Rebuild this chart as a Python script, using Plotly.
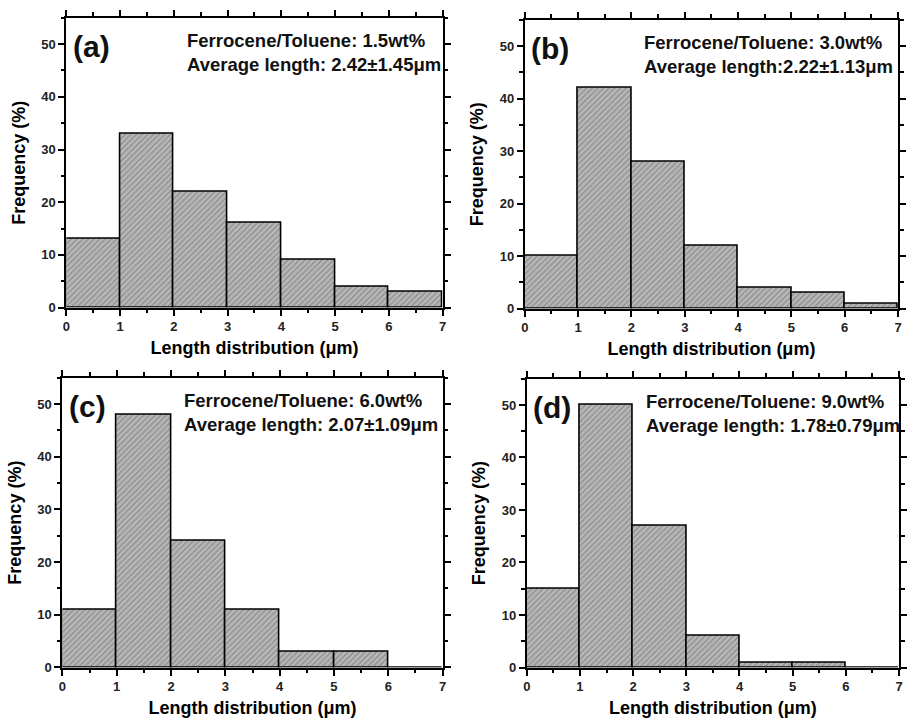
import plotly.graph_objects as go

bin_left = [0, 1, 2, 3, 4, 5, 6]
freq_a = [13, 33, 22, 16, 9, 4, 3]
freq_b = [10, 42, 28, 12, 4, 3, 1]
freq_c = [11, 48, 24, 11, 3, 3, 0]
freq_d = [15, 50, 27, 6, 1, 1, 0]
panel_labels = ["(a)", "(b)", "(c)", "(d)"]
conc_text = ["Ferrocene/Toluene: 1.5wt%", "Ferrocene/Toluene: 3.0wt%",
             "Ferrocene/Toluene: 6.0wt%", "Ferrocene/Toluene: 9.0wt%"]
avg_text = ["Average length: 2.42\u00b11.45\u03bcm", "Average length:2.22\u00b11.13\u03bcm",
            "Average length: 2.07\u00b11.09\u03bcm", "Average length: 1.78\u00b10.79\u03bcm"]
x_title = "Length distribution (\u03bcm)"
y_title = "Frequency (%)"

W, H = 907, 720
# panel boxes in pixels: left, right, top, bottom
boxes = [(63, 443, 18, 311), (526, 903, 20, 312), (59, 443, 382, 675), (528, 904, 383, 675)]
series = [freq_a, freq_b, freq_c, freq_d]

FONT = "Liberation Sans, Arial, sans-serif"
fig = go.Figure()
layout = dict(width=W, height=H, margin=dict(l=0, r=0, t=0, b=0),
              paper_bgcolor="white", plot_bgcolor="white", showlegend=False,
              bargap=0, font=dict(family=FONT, color="black"))
annotations = []
for i, (vals, box) in enumerate(zip(series, boxes)):
    n = "" if i == 0 else str(i + 1)
    xa, ya = "x" + n, "y" + n
    fig.add_trace(go.Bar(
        x=bin_left, y=vals, offset=0, width=1, xaxis=xa, yaxis=ya,
        marker=dict(color="#b4b4b4",
                    line=dict(color="black", width=1.6),
                    pattern=dict(shape="/", fgcolor="#666666", bgcolor="#b8b8b8",
                                 size=4, solidity=0.35)),
    ))
    l, r, t, b = box
    common = dict(showline=True, linewidth=2, linecolor="black", mirror="ticks",
                  ticks="outside", ticklen=6, tickwidth=2.2, tickcolor="black",
                  showgrid=False, zeroline=False,
                  tickfont=dict(size=13, family=FONT, weight="bold", color="#222"))
    layout["xaxis" + n] = dict(common, domain=[l / W, r / W], range=[0, 7], dtick=1,
                               anchor=ya,
                               minor=dict(ticks="outside", ticklen=3.5, tickwidth=2,
                                          dtick=0.5, tickcolor="black", showgrid=False),
                               title=dict(text=x_title, standoff=8,
                                          font=dict(size=18, family=FONT, weight="bold")))
    layout["yaxis" + n] = dict(common, domain=[1 - b / H, 1 - t / H], range=[0, 55],
                               dtick=10, anchor=xa,
                               minor=dict(ticks="outside", ticklen=3.5, tickwidth=2,
                                          dtick=5, tickcolor="black", showgrid=False),
                               title=dict(text=y_title, standoff=11,
                                          font=dict(size=18, family=FONT, weight="bold")))
    xd, yd = xa + " domain", ya + " domain"
    annotations.append(dict(text="<b>" + panel_labels[i] + "</b>", xref=xd, yref=yd,
                            x=0.012, y=0.9, xanchor="left", yanchor="middle",
                            showarrow=False, font=dict(size=30, family=FONT, color="#111")))
    annotations.append(dict(text="<b>" + conc_text[i] + "</b>", xref=xd, yref=yd,
                            x=0.315, y=0.92, xanchor="left", yanchor="middle",
                            showarrow=False, font=dict(size=18.5, family=FONT, color="#111")))
    annotations.append(dict(text="<b>" + avg_text[i] + "</b>", xref=xd, yref=yd,
                            x=0.315, y=0.838, xanchor="left", yanchor="middle",
                            showarrow=False, font=dict(size=18.5, family=FONT, color="#111")))
layout["annotations"] = annotations
fig.update_layout(**layout)
fig.write_html("out.html")
